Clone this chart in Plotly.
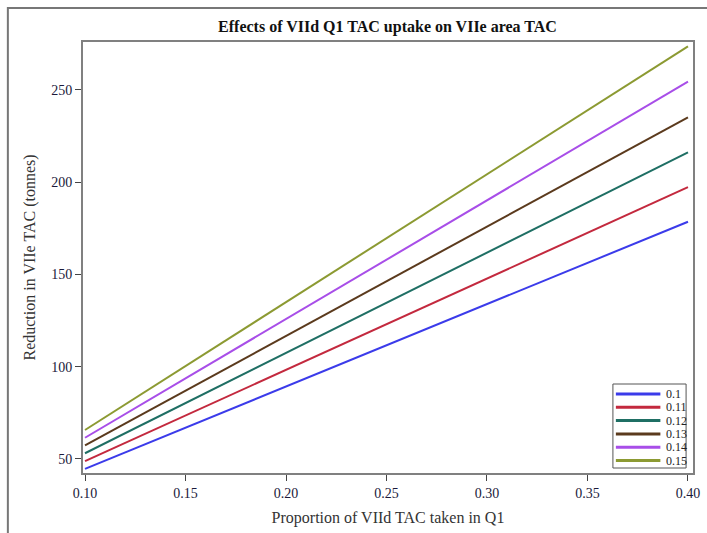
import plotly.graph_objects as go

# Data
rates = ["0.1", "0.11", "0.12", "0.13", "0.14", "0.15"]
proportion = [0.10, 0.40]
reduction_0_10 = [44.6, 178.6]
reduction_0_11 = [48.8, 197.3]
reduction_0_12 = [53.1, 216.2]
reduction_0_13 = [57.4, 235.2]
reduction_0_14 = [61.5, 254.5]
reduction_0_15 = [65.7, 273.6]
series = [reduction_0_10, reduction_0_11, reduction_0_12,
          reduction_0_13, reduction_0_14, reduction_0_15]
colors = ["#3b3bea", "#c3293e", "#1f6f64", "#5b3a1d", "#a84ee8", "#8c9a32"]
x_ticks = [0.10, 0.15, 0.20, 0.25, 0.30, 0.35, 0.40]
x_tick_labels = ["0.10", "0.15", "0.20", "0.25", "0.30", "0.35", "0.40"]
y_ticks = [50, 100, 150, 200, 250]

FONT = "Liberation Serif, Times New Roman, serif"
fig = go.Figure()
for name, vals, c in zip(rates, series, colors):
    fig.add_trace(go.Scatter(x=proportion, y=vals, mode="lines", name=name,
                             line=dict(color=c, width=2), showlegend=False))

L, R, T, B = 83, 7, 42, 60
W, H = 707, 533
pw, ph = W - L - R, H - T - B
def px(x): return (x - L) / pw
def py(y): return (H - B - y) / ph

shapes = []
annotations = []
# outer frame
shapes.append(dict(type="rect", xref="paper", yref="paper",
                   x0=px(7), x1=px(720), y0=py(8), y1=py(545),
                   line=dict(color="#777777", width=2), fillcolor="rgba(0,0,0,0)", layer="below"))
# legend box (manual)
shapes.append(dict(type="rect", xref="paper", yref="paper",
                   x0=px(619), x1=px(693), y0=py(384), y1=py(468),
                   line=dict(color="#555555", width=1), fillcolor="white"))
for i, (name, c) in enumerate(zip(rates, colors)):
    yc = 394 + i * 13.3
    shapes.append(dict(type="line", xref="paper", yref="paper",
                       x0=px(622), x1=px(667), y0=py(yc), y1=py(yc),
                       line=dict(color=c, width=3)))
    annotations.append(dict(x=px(671), y=py(yc), xref="paper", yref="paper",
                            text=name, showarrow=False, xanchor="left", yanchor="middle",
                            font=dict(family=FONT, size=12, color="#222222")))

fig.update_layout(
    width=W, height=H,
    margin=dict(l=L, r=R, t=T, b=B),
    paper_bgcolor="white", plot_bgcolor="white",
    font=dict(family=FONT, size=14, color="#222222"),
    title=dict(text="<b>Effects of VIId Q1 TAC uptake on VIIe area TAC</b>",
               x=px(391), xref="paper", xanchor="center", y=1 - 26 / H, yanchor="middle",
               font=dict(family=FONT, size=16, color="#111111")),
    xaxis=dict(range=[0.099, 0.4025], tickvals=x_ticks, ticktext=x_tick_labels,
               showgrid=False, zeroline=False, showline=True, linecolor="#808080",
               linewidth=2, mirror=True, ticks="outside", ticklen=6, tickcolor="#444444",
               tickfont=dict(family=FONT, size=14, color="#1a1a3a"),
               title=dict(text="Proportion of VIId TAC taken in Q1", standoff=12,
                          font=dict(family=FONT, size=16, color="#333333"))),
    yaxis=dict(range=[42.4, 276], tickvals=y_ticks,
               showgrid=False, zeroline=False, showline=True, linecolor="#808080",
               linewidth=2, mirror=True, ticks="outside", ticklen=6, tickcolor="#444444",
               tickfont=dict(family=FONT, size=14, color="#1a1a3a"),
               title=dict(text="Reduction in VIIe TAC (tonnes)", standoff=12,
                          font=dict(family=FONT, size=16, color="#333333"))),
    shapes=shapes, annotations=annotations,
)
fig.write_html("out.html")
